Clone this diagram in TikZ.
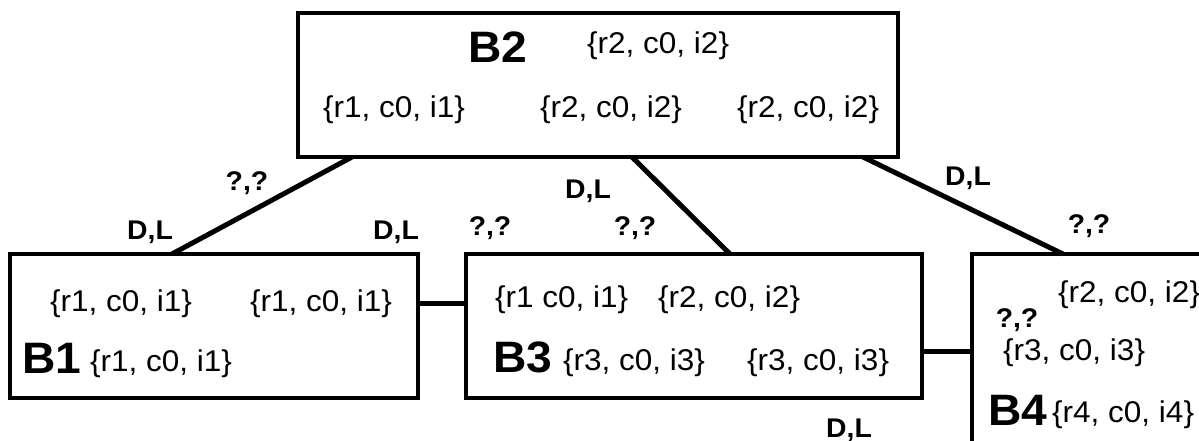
\documentclass[tikz,border=0pt]{standalone}
\usepackage{fontspec}
\setmainfont{Liberation Sans}[FakeStretch=1.05]
\begin{document}
\begin{tikzpicture}[x=1pt,y=-1pt,
  block/.style={draw,line width=3.3pt,rectangle,inner sep=0pt,outer sep=0pt,anchor=north west},
  link/.style={line width=5pt},
  txt/.style={inner sep=0pt,anchor=base west,font=\fontsize{30}{32}\selectfont},
  big/.style={inner sep=0pt,anchor=base west,font=\fontsize{44}{46}\selectfont\bfseries},
  tag/.style={inner sep=0pt,anchor=base,font=\fontsize{27}{29}\selectfont\bfseries}]
\useasboundingbox (0,0) rectangle (1199,440);
\clip (0,0) rectangle (1199,440);

% blocks
\node[block,minimum width=600pt,minimum height=144pt] (b2) at (298,13) {};
\node[block,minimum width=408pt,minimum height=144pt] (b1) at (10,254) {};
\node[block,minimum width=456pt,minimum height=144pt] (b3) at (466,254) {};
\node[block,minimum width=300pt,minimum height=260pt] (b4) at (972,254) {};

% connectors
\draw[link] ([xshift=54pt]b2.south west) -- ([xshift=162pt]b1.north west);
\draw[link] ([xshift=334pt]b2.south west) -- ([xshift=264pt]b3.north west);
\draw[link] ([xshift=565pt]b2.south west) -- ([xshift=91pt]b4.north west);
\draw[link] ([yshift=-49pt]b1.north east) -- ([yshift=-49pt]b3.north west);
\draw[link] ([yshift=-97pt]b3.north east) -- ([yshift=-97pt]b4.north west);

% B2 contents
\node[big] (n2) at (468,62) {B2};
\node[txt] (t2a) at (587,53) {\{r2, c0, i2\}};
\node[txt] (t2b) at (323,117) {\{r1, c0, i1\}};
\node[txt] (t2c) at (540,117) {\{r2, c0, i2\}};
\node[txt] (t2d) at (737,117) {\{r2, c0, i2\}};

% B1 contents
\node[txt] (t1a) at (50,311) {\{r1, c0, i1\}};
\node[txt] (t1b) at (250,311) {\{r1, c0, i1\}};
\node[big] (n1) at (22,373) {B1};
\node[txt] (t1c) at (90,371) {\{r1, c0, i1\}};

% B3 contents
\node[txt] (t3a) at (495,307) {\{r1 c0, i1\}};
\node[txt] (t3b) at (658,307) {\{r2, c0, i2\}};
\node[big] (n3) at (493,372) {B3};
\node[txt] (t3c) at (563,370) {\{r3, c0, i3\}};
\node[txt] (t3d) at (747,370) {\{r3, c0, i3\}};

% B4 contents
\node[txt] (t4a) at (1058,302) {\{r2, c0, i2\}};
\node[tag] (q4) at (1017,327) {?,?};
\node[txt] (t4b) at (1003,360) {\{r3, c0, i3\}};
\node[big] (n4) at (988,425) {B4};
\node[txt] (t4c) at (1052,422) {\{r4, c0, i4\}};

% edge tags
\node[tag] (g1) at (247,190) {?,?};
\node[tag] (g2) at (150,239) {D,L};
\node[tag] (g3) at (396,239) {D,L};
\node[tag] (g4) at (490,235) {?,?};
\node[tag] (g5) at (588,198) {D,L};
\node[tag] (g6) at (635,235) {?,?};
\node[tag] (g7) at (968,185) {D,L};
\node[tag] (g8) at (1089,233) {?,?};
\node[tag] (g9) at (849,437) {D,L};
\end{tikzpicture}
\end{document}
